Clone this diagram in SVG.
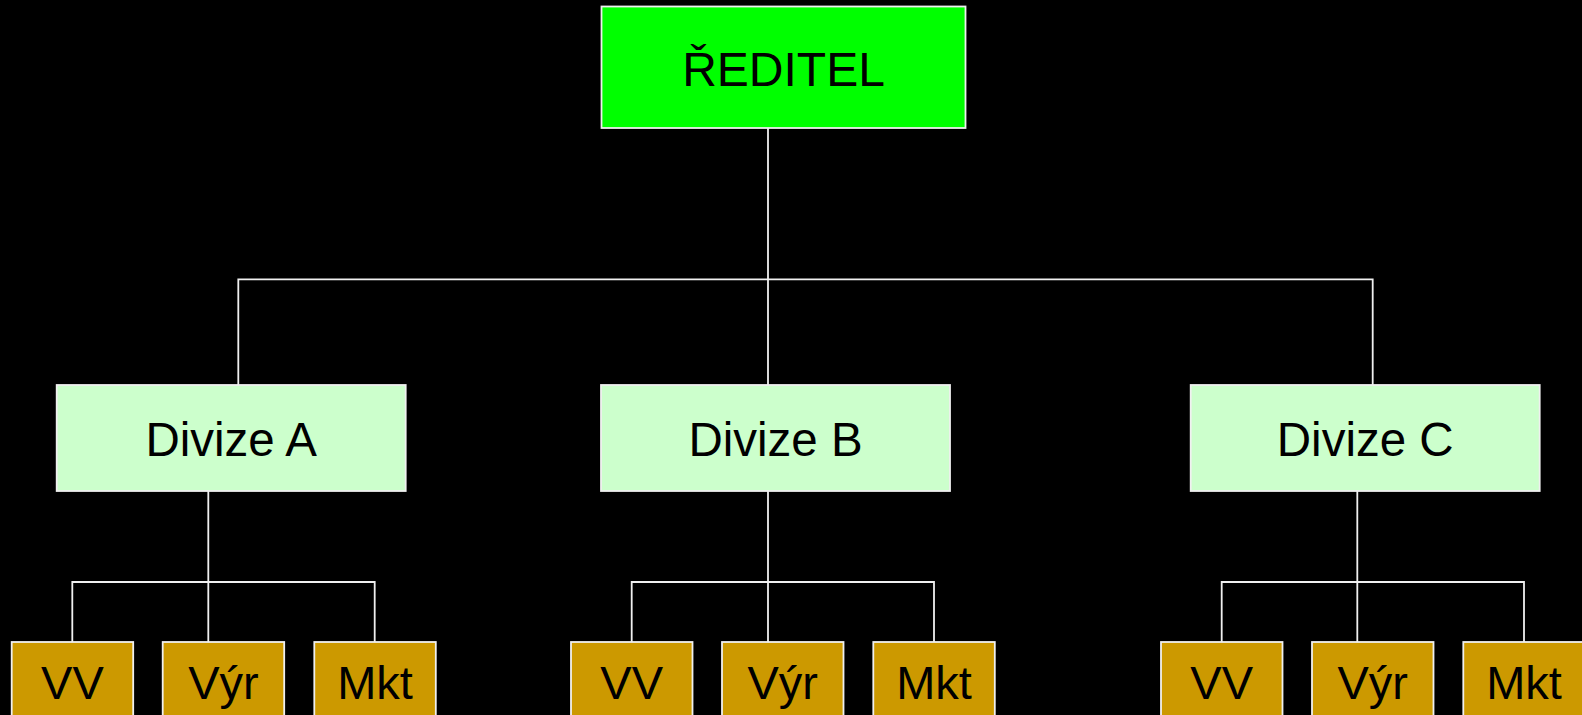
<svg xmlns="http://www.w3.org/2000/svg" width="1582" height="715" viewBox="0 0 1582 715">
<style>
  .box { stroke: #f0f0f0; stroke-width: 1.8; }
  .top { fill: #00ff00; }
  .div { fill: #ccffcc; }
  .dep { fill: #cc9900; }
  .lbl { font-family: "Liberation Sans", Arial, sans-serif; font-size: 47px; fill: #000; text-anchor: middle; }
  .big { font-size: 47.5px; }
  .con { stroke: #f0f0f0; stroke-width: 1.8; fill: none; }
</style>
<rect width="1582" height="715" fill="#000"/>
<g id="connectors">
  <path class="con" d="M768 128 V385 M238.3 385 V279.3 H1372.7 V385"/>
  <path class="con" d="M208.3 491 V642 M72.3 642 V582 H374.7 V642"/>
  <path class="con" d="M768 491 V642 M631.7 642 V582 H934 V642"/>
  <path class="con" d="M1357.3 491 V642 M1221.7 642 V582 H1524 V642"/>
</g>
<g id="reditel"><rect class="box top" x="601.5" y="6.5" width="364" height="121.5"/><text class="lbl" x="783.5" y="86" style="font-size:48px">ŘEDITEL</text></g>
<g id="divize-a"><rect class="box div" x="56.7" y="385" width="349" height="106"/><text class="lbl big" x="231.2" y="456">Divize A</text></g>
<g id="divize-b"><rect class="box div" x="601" y="385" width="349" height="106"/><text class="lbl big" x="775.5" y="456">Divize B</text></g>
<g id="divize-c"><rect class="box div" x="1190.7" y="385" width="349" height="106"/><text class="lbl big" x="1365.2" y="456">Divize C</text></g>
<g id="a-vv"><rect class="box dep" x="11.7" y="642" width="121.5" height="110"/><text class="lbl" x="72.4" y="699">VV</text></g>
<g id="a-vyr"><rect class="box dep" x="162.7" y="642" width="121.5" height="110"/><text class="lbl" x="223.4" y="699">Výr</text></g>
<g id="a-mkt"><rect class="box dep" x="314.3" y="642" width="121.5" height="110"/><text class="lbl" x="375" y="699">Mkt</text></g>
<g id="b-vv"><rect class="box dep" x="571" y="642" width="121.5" height="110"/><text class="lbl" x="631.7" y="699">VV</text></g>
<g id="b-vyr"><rect class="box dep" x="722" y="642" width="121.5" height="110"/><text class="lbl" x="782.7" y="699">Výr</text></g>
<g id="b-mkt"><rect class="box dep" x="873.3" y="642" width="121.5" height="110"/><text class="lbl" x="934" y="699">Mkt</text></g>
<g id="c-vv"><rect class="box dep" x="1161" y="642" width="121.5" height="110"/><text class="lbl" x="1221.7" y="699">VV</text></g>
<g id="c-vyr"><rect class="box dep" x="1312" y="642" width="121.5" height="110"/><text class="lbl" x="1372.7" y="699">Výr</text></g>
<g id="c-mkt"><rect class="box dep" x="1463.3" y="642" width="121.5" height="110"/><text class="lbl" x="1524" y="699">Mkt</text></g>
</svg>
